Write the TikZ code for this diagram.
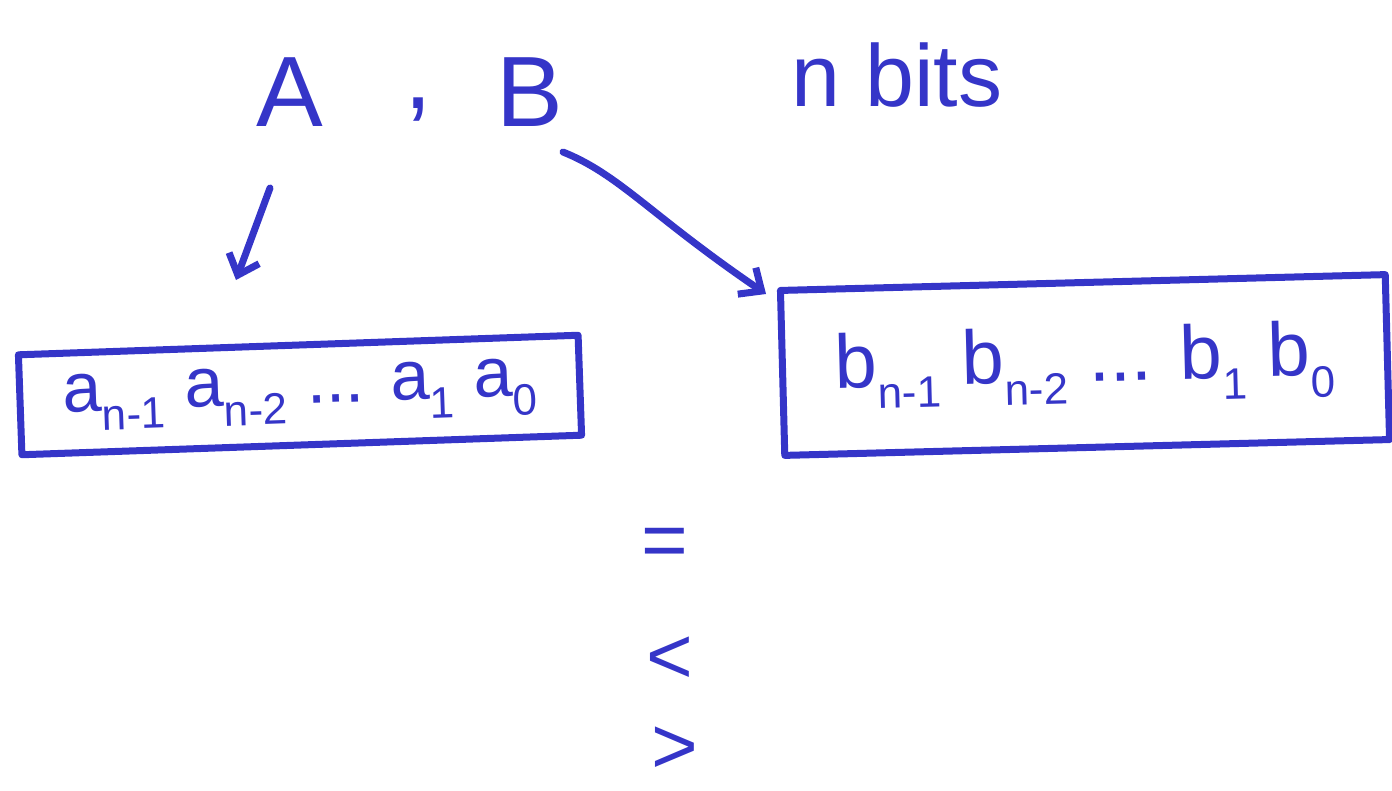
\documentclass[tikz,border=0pt]{standalone}
\usepackage{fontspec}
\setmainfont{Liberation Sans}
\usetikzlibrary{arrows.meta}
\definecolor{ink}{HTML}{3535C8}
\newcommand{\sbs}[1]{\raisebox{-0.28em}{\fontsize{44}{44}\selectfont #1}}
\tikzset{
  hand/.style={color=ink, line width=7pt, line cap=round, line join=round},
  lbl/.style={text=ink, inner sep=0pt},
  boxnode/.style={hand, draw, inner xsep=14pt, inner ysep=10pt},
  arr/.style={hand, -{Straight Barb[length=18pt,width=32pt,line width=7pt]}}
}
\begin{document}
\begin{tikzpicture}[x=1pt,y=-1pt]
\useasboundingbox (0,0) rectangle (1392,790);
\node[lbl, font=\fontsize{100}{100}\selectfont] (A) at (290,92) {A};
\node[lbl, font=\fontsize{100}{100}\selectfont] (comma) at (418,110) {,};
\node[lbl, font=\fontsize{100}{100}\selectfont] (B) at (530,92) {B};
\node[lbl, font=\fontsize{88}{88}\selectfont] (nbits) at (897,75) {n bits};
\node[boxnode, rotate=2, minimum width=560pt, minimum height=100pt, font=\fontsize{70}{70}\selectfont] (boxA) at (300,395)
  {a\sbs{n-1} a\sbs{n-2} ... a\sbs{1} a\sbs{0}};
\node[boxnode, rotate=1.5, minimum width=605pt, minimum height=165pt, font=\fontsize{76}{76}\selectfont] (boxB) at (1085,365)
  {b\sbs{n-1} b\sbs{n-2} ... b\sbs{1} b\sbs{0}};
\coordinate (a1) at (270,188);
\coordinate (a2) at (236,280);
\draw[arr] (a1) -- (a2);
\coordinate (b1) at (563,152);
\coordinate (b2) at (766,294);
\draw[arr] (b1) .. controls (620,175) and (650,215) .. (b2);
\node[lbl, font=\fontsize{80}{80}\selectfont] (eq) at (665,548) {=};
\node[lbl, font=\fontsize{80}{80}\selectfont] (lt) at (670,660) {<};
\node[lbl, font=\fontsize{80}{80}\selectfont] (gt) at (675,750) {>};
\end{tikzpicture}
\end{document}
